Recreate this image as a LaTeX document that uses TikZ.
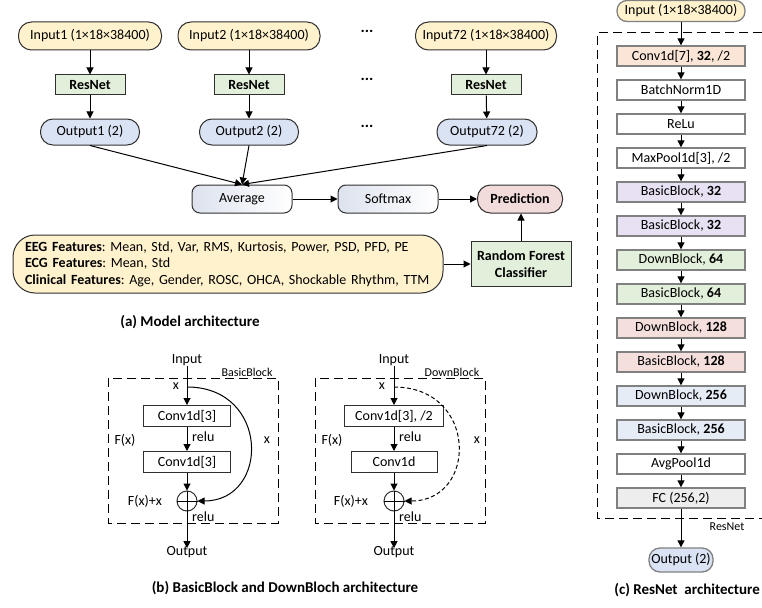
\documentclass[tikz,border=0pt]{standalone}
\usepackage{fontspec}
\setmainfont{Carlito}
\frenchspacing
\usetikzlibrary{arrows.meta}
\definecolor{inyel}{HTML}{FFF2CC}
\definecolor{outblue}{HTML}{DAE3F3}
\definecolor{rngreen}{HTML}{E2EFDA}
\definecolor{predpink}{HTML}{F2DCDB}
\definecolor{darkline}{HTML}{303030}
\definecolor{graybox}{HTML}{808080}
\definecolor{avgblue}{HTML}{DDE2EE}
\definecolor{peach}{HTML}{FBE5D6}
\definecolor{lav}{HTML}{E8E1F4}
\definecolor{rose}{HTML}{F4DFDC}
\definecolor{ltblue}{HTML}{E6ECF5}
\definecolor{ltgray}{HTML}{EDEDED}
\begin{document}
\begin{tikzpicture}[x=1pt,y=-1pt,
  every node/.style={font=\fontsize{14}{16.5}\selectfont},
  ipill/.style={draw=darkline, line width=1pt, fill=inyel, rounded corners=13pt, minimum height=28pt, inner sep=0pt},
  opill/.style={draw=darkline, line width=1pt, fill=outblue, rounded corners=12.5pt, minimum height=26pt, inner sep=0pt},
  rnbox/.style={draw=darkline, line width=1pt, fill=rngreen, minimum width=70pt, minimum height=20pt, inner sep=0pt, font=\fontsize{14}{16.5}\selectfont\bfseries},
  softbox/.style={draw=darkline, line width=1pt, left color=avgblue, right color=white, rounded corners=8pt, minimum width=100pt, minimum height=28pt, inner sep=0pt},
  colbox/.style={draw=graybox, line width=1.3pt, minimum width=128pt, minimum height=20pt, inner sep=0pt},
  blockbox/.style={draw=darkline, line width=1pt, minimum height=21pt, inner sep=0pt},
  plusnode/.style={draw=darkline, line width=1pt, circle, minimum size=20pt, inner sep=0pt},
  arr/.style={-{Triangle[length=7pt,width=7pt]}, line width=1pt, draw=black},
  dbox/.style={dashed, dash pattern=on 9pt off 5pt, line width=1pt},
  lbl/.style={inner sep=0pt},
  dotsl/.style={inner sep=0pt, font=\fontsize{16}{18}\selectfont\bfseries},
  small/.style={inner sep=0pt, font=\fontsize{12}{14}\selectfont},
  ttl/.style={inner sep=0pt, font=\fontsize{15}{18}\selectfont\bfseries}
]
\useasboundingbox (0,0) rectangle (762,607);

% ---------- (a) model architecture ----------
\node[ipill, minimum width=143pt] (in1) at (90,36) {Input1 (1×18×38400)};
\node[ipill, minimum width=142pt] (in2) at (249,36) {Input2 (1×18×38400)};
\node[ipill, minimum width=141pt] (in72) at (486,36) {Input72 (1×18×38400)};
\node[rnbox] (rn1) at (90,85) {ResNet};
\node[rnbox] (rn2) at (249,85) {ResNet};
\node[rnbox] (rn72) at (486,85) {ResNet};
\node[opill, minimum width=99pt] (o1) at (90,132) {Output1 (2)};
\node[opill, minimum width=99pt] (o2) at (249,132) {Output2 (2)};
\node[opill, minimum width=100pt] (o72) at (487,132) {Output72 (2)};
\node[dotsl] (d1) at (367,31) {...};
\node[dotsl] (d2) at (367,79) {...};
\node[dotsl] (d3) at (367,126) {...};
\draw[arr] (in1) -- (rn1);
\draw[arr] (in2) -- (rn2);
\draw[arr] (in72) -- (rn72);
\draw[arr] (rn1) -- (o1);
\draw[arr] (rn2) -- (o2);
\draw[arr] (rn72) -- (o72);

\node[softbox] (avg) at (242,199) {Average};
\node[softbox] (soft) at (388,199) {Softmax};
\node[draw=darkline, line width=1pt, fill=predpink, rounded corners=13pt, minimum width=85pt, minimum height=28pt, inner sep=0pt, font=\fontsize{14}{16.5}\selectfont\bfseries] (pred) at (520,199) {Prediction};
\draw[arr] (o1.south) -- (avg.north);
\draw[arr] (o2.south) -- (avg.north);
\draw[arr] (o72.south) -- (avg.north);
\draw[arr] (avg) -- (soft);
\draw[arr] (soft) -- (pred);

\node[draw=darkline, line width=1pt, fill=inyel, rounded corners=22pt, minimum width=430pt, minimum height=58pt, text width=406pt, align=left, inner sep=0pt] (feat) at (228,264)
 {\textbf{EEG Features}: Mean, Std, Var, RMS, Kurtosis, Power, PSD, PFD, PE\\
  \textbf{ECG Features}: Mean, Std\\
  \textbf{Clinical Features}: Age, Gender, ROSC, OHCA, Shockable Rhythm, TTM};
\node[draw=darkline, line width=1pt, fill=rngreen, minimum width=100pt, minimum height=45pt, align=center, inner sep=0pt, font=\fontsize{14}{17}\selectfont\bfseries] (rf) at (521,264) {Random Forest\\Classifier};
\draw[arr] (feat) -- (rf);
\draw[arr] (rf.north) -- (rf.north |- pred.south);
\node[ttl] (ta) at (190,322) {(a) Model architecture};

% ---------- (b) BasicBlock ----------
\draw[dbox] (108,378) rectangle (278,523);
\node[small] (blab) at (247,372) {BasicBlock};
\node[lbl] (bin) at (187,360) {Input};
\node[blockbox, minimum width=87pt] (bc1) at (187,416) {Conv1d[3]};
\node[blockbox, minimum width=87pt] (bc2) at (187,462) {Conv1d[3]};
\node[plusnode] (bp) at (187,501) {};
\draw[line width=1pt] (bp.west) -- (bp.east) (bp.north) -- (bp.south);
\node[lbl] (bout) at (187,552) {Output};
\coordinate (bx) at (187,387);
\draw[arr] (bin.south) -- (bc1.north);
\draw[arr] (bc1) -- (bc2);
\draw[arr] (bc2) -- (bp);
\draw[arr] (bp.south) -- ([yshift=-2pt]bout.north);
\draw[arr] (bx) .. controls (270,387) and (270,501) .. (bp.east);
\node[lbl] (bxl) at (176,386) {x};
\node[lbl, anchor=west] (br1) at (192,437) {relu};
\node[lbl] (bf) at (125,440) {F(x)};
\node[lbl] (bfx) at (145,501) {F(x)+x};
\node[lbl, anchor=west] (br2) at (192,517) {relu};
\node[lbl] (bxr) at (267,440) {x};

% ---------- (b) DownBlock ----------
\draw[dbox] (315,378) rectangle (485,523);
\node[small] (dlab) at (452,372) {DownBlock};
\node[lbl] (din) at (394,360) {Input};
\node[blockbox, minimum width=99pt] (dc1) at (394,416) {Conv1d[3], /2};
\node[blockbox, minimum width=86pt] (dc2) at (394,462) {Conv1d};
\node[plusnode] (dp) at (394,501) {};
\draw[line width=1pt] (dp.west) -- (dp.east) (dp.north) -- (dp.south);
\node[lbl] (dout) at (394,552) {Output};
\coordinate (dx) at (394,387);
\draw[arr] (din.south) -- (dc1.north);
\draw[arr] (dc1) -- (dc2);
\draw[arr] (dc2) -- (dp);
\draw[arr] (dp.south) -- ([yshift=-2pt]dout.north);
\draw[arr, dashed, dash pattern=on 4pt off 2.5pt] (dx) .. controls (478,387) and (478,501) .. (dp.east);
\node[lbl] (dxl) at (382,386) {x};
\node[lbl, anchor=west] (dr1) at (399,437) {relu};
\node[lbl] (df) at (332,440) {F(x)};
\node[lbl] (dfx) at (351,501) {F(x)+x};
\node[lbl, anchor=west] (dr2) at (399,517) {relu};
\node[lbl] (dxr) at (477,440) {x};
\node[ttl] (tb) at (285,588) {(b) BasicBlock and DownBloch architecture};

% ---------- (c) ResNet ----------
\draw[dbox] (762,33) -- (597,33) -- (597,518) -- (762,518);
\node[small] (rlab) at (727,527) {ResNet};
\node[draw=graybox, line width=1.3pt, fill=inyel, rounded corners=10pt, minimum width=128pt, minimum height=21pt, inner sep=0pt] (cin) at (681,11) {Input (1×18×38400)};
\node[colbox, fill=peach] (c1) at (681,56) {Conv1d[7], \textbf{32}, /2};
\node[colbox, fill=white] (c2) at (681,90) {BatchNorm1D};
\node[colbox, fill=white] (c3) at (681,124) {ReLu};
\node[colbox, fill=white] (c4) at (681,158) {MaxPool1d[3], /2};
\node[colbox, fill=lav] (c5) at (681,192) {BasicBlock, \textbf{32}};
\node[colbox, fill=lav] (c6) at (681,226) {BasicBlock, \textbf{32}};
\node[colbox, fill=rngreen] (c7) at (681,260) {DownBlock, \textbf{64}};
\node[colbox, fill=rngreen] (c8) at (681,294) {BasicBlock, \textbf{64}};
\node[colbox, fill=rose] (c9) at (681,328) {DownBlock, \textbf{128}};
\node[colbox, fill=rose] (c10) at (681,362) {BasicBlock, \textbf{128}};
\node[colbox, fill=ltblue] (c11) at (681,396) {DownBlock, \textbf{256}};
\node[colbox, fill=ltblue] (c12) at (681,430) {BasicBlock, \textbf{256}};
\node[colbox, fill=white] (c13) at (681,464) {AvgPool1d};
\node[colbox, fill=ltgray] (c14) at (681,498) {FC (256,2)};
\node[draw=graybox, line width=1.3pt, fill=outblue, rounded corners=11pt, minimum width=64pt, minimum height=24pt, inner sep=0pt] (cout) at (681,560) {Output (2)};
\draw[arr] (cin) -- (c1);
\foreach \a/\b in {c1/c2,c2/c3,c3/c4,c4/c5,c5/c6,c6/c7,c7/c8,c8/c9,c9/c10,c10/c11,c11/c12,c12/c13,c13/c14}
  \draw[arr] (\a) -- (\b);
\draw[arr] (c14) -- (cout);
\node[ttl, anchor=east] (tc) at (760,590) {(c) ResNet\ \ architecture};
\end{tikzpicture}
\end{document}
